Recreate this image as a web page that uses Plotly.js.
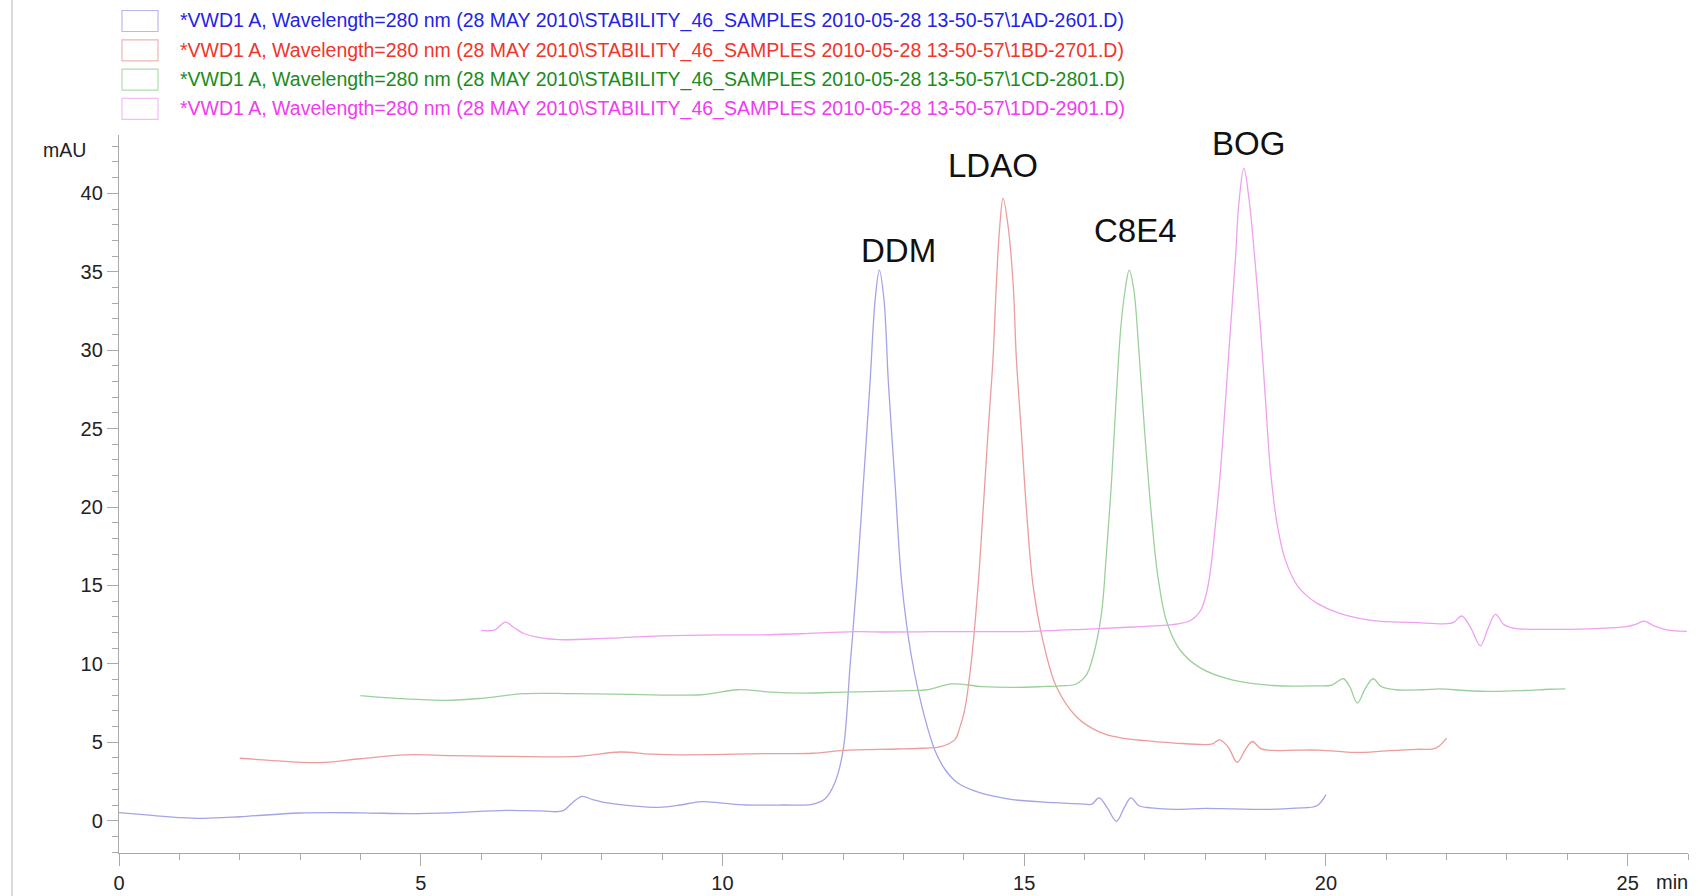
<!DOCTYPE html>
<html>
<head>
<meta charset="utf-8">
<script src="https://cdn.plot.ly/plotly-3.0.1.min.js"></script>
<style>html,body{margin:0;padding:0;background:#fff;}#chart{width:1706px;height:896px;}</style>
</head>
<body>
<div id="chart"></div>
<script>
// ---------- data ----------
const seriesNames = [
  "*VWD1 A, Wavelength=280 nm (28 MAY 2010\\STABILITY_46_SAMPLES 2010-05-28 13-50-57\\1AD-2601.D)",
  "*VWD1 A, Wavelength=280 nm (28 MAY 2010\\STABILITY_46_SAMPLES 2010-05-28 13-50-57\\1BD-2701.D)",
  "*VWD1 A, Wavelength=280 nm (28 MAY 2010\\STABILITY_46_SAMPLES 2010-05-28 13-50-57\\1CD-2801.D)",
  "*VWD1 A, Wavelength=280 nm (28 MAY 2010\\STABILITY_46_SAMPLES 2010-05-28 13-50-57\\1DD-2901.D)"
];
const peakLabels = ["DDM", "LDAO", "C8E4", "BOG"];

// Trace 1 (blue, DDM)
const t1 = [0, 0.5, 1.0, 1.4, 2.0, 3.0, 4.0, 4.8, 5.5, 6.4, 7.0, 7.35, 7.5, 7.67, 7.85, 8.1, 8.5, 8.95, 9.3, 9.65, 10.0, 10.4, 11.0, 11.5, 11.7, 11.86, 12.0, 12.114, 12.224, 12.335, 12.445, 12.53, 12.6, 12.677, 12.75, 12.86, 12.97, 13.13, 13.35, 13.53, 13.7, 13.9, 14.25, 14.8, 15.5, 16.0, 16.12, 16.24, 16.38, 16.53, 16.66, 16.77, 16.9, 17.1, 17.5, 18.0, 18.47, 19.0, 19.5, 19.85, 20.0];
const v1 = [0.52, 0.35, 0.2, 0.15, 0.25, 0.49, 0.5, 0.45, 0.5, 0.66, 0.62, 0.62, 1.1, 1.55, 1.35, 1.13, 0.95, 0.85, 1.0, 1.22, 1.12, 1.0, 1.0, 1.05, 1.4, 2.4, 4.5, 9.83, 15.15, 21.5, 27.9, 33.2, 35.1, 33.2, 27.9, 21.5, 15.2, 10.5, 6.6, 4.4, 3.2, 2.4, 1.8, 1.35, 1.15, 1.05, 1.05, 1.45, 0.8, -0.04, 0.85, 1.45, 0.95, 0.82, 0.72, 0.78, 0.75, 0.72, 0.8, 0.95, 1.66];

// Trace 2 (red, LDAO)
const t2 = [2.0, 2.5, 3.3, 4.0, 4.75, 5.5, 6.5, 7.6, 8.3, 8.8, 9.4, 10.67, 11.5, 12.0, 12.9, 13.3, 13.6, 13.85, 13.93, 14.015, 14.125, 14.236, 14.32, 14.4, 14.484, 14.54, 14.595, 14.65, 14.733, 14.816, 14.87, 14.954, 15.037, 15.147, 15.313, 15.534, 15.865, 16.25, 16.58, 17.0, 17.5, 18.0, 18.12, 18.24, 18.38, 18.53, 18.66, 18.78, 18.92, 19.14, 19.5, 19.9, 20.48, 21.0, 21.5, 21.82, 22.0];
const v2 = [3.98, 3.85, 3.7, 3.95, 4.2, 4.15, 4.1, 4.1, 4.38, 4.25, 4.2, 4.27, 4.3, 4.48, 4.57, 4.62, 4.7, 5.17, 5.9, 7.1, 10.2, 15.0, 19.85, 24.7, 29.5, 34.3, 37.9, 39.7, 37.9, 34.3, 29.5, 24.7, 19.85, 15.0, 11.43, 8.54, 6.63, 5.65, 5.3, 5.1, 4.95, 4.85, 4.9, 5.15, 4.7, 3.72, 4.5, 5.05, 4.6, 4.48, 4.5, 4.5, 4.35, 4.45, 4.55, 4.63, 5.27];

// Trace 3 (green, C8E4)
const t3 = [4.0, 4.6, 5.43, 6.0, 6.7, 7.5, 8.5, 9.65, 10.25, 10.8, 11.35, 12.0, 12.94, 13.4, 13.8, 14.3, 14.8, 15.3, 15.6, 15.85, 16.03, 16.14, 16.28, 16.36, 16.45, 16.52, 16.6, 16.675, 16.74, 16.815, 16.9, 16.985, 17.11, 17.22, 17.36, 17.58, 17.91, 18.46, 19.13, 19.8, 20.1, 20.29, 20.4, 20.52, 20.65, 20.78, 20.92, 21.15, 21.6, 21.9, 22.3, 22.78, 23.3, 23.7, 23.97];
const v3 = [7.97, 7.8, 7.67, 7.8, 8.1, 8.1, 8.05, 8.03, 8.35, 8.2, 8.14, 8.2, 8.28, 8.35, 8.72, 8.55, 8.5, 8.55, 8.6, 8.7, 9.3, 10.45, 13.2, 16.9, 21.8, 26.6, 31.4, 33.9, 35.1, 33.9, 30.0, 25.4, 19.4, 15.45, 12.7, 10.9, 9.76, 8.96, 8.62, 8.6, 8.65, 9.05, 8.5, 7.5, 8.4, 9.05, 8.55, 8.35, 8.35, 8.4, 8.3, 8.24, 8.3, 8.38, 8.41];

// Trace 4 (magenta, BOG)
const t4 = [6.0, 6.23, 6.4, 6.55, 6.7, 7.0, 7.29, 8.13, 8.98, 10.0, 10.67, 11.3, 12.19, 12.72, 13.5, 14.3, 15.11, 16.07, 16.8, 17.3, 17.55, 17.72, 17.84, 17.93, 18.0, 18.07, 18.17, 18.253, 18.336, 18.419, 18.502, 18.557, 18.64, 18.73, 18.82, 18.916, 18.999, 19.082, 19.192, 19.33, 19.524, 19.68, 19.855, 20.24, 20.79, 21.44, 22.0, 22.12, 22.25, 22.4, 22.56, 22.69, 22.81, 22.95, 23.1, 23.6, 24.21, 24.98, 25.12, 25.27, 25.45, 25.65, 25.98];
const v4 = [12.13, 12.17, 12.66, 12.3, 11.95, 11.65, 11.54, 11.64, 11.79, 11.85, 11.85, 11.92, 12.05, 12.03, 12.05, 12.05, 12.07, 12.22, 12.35, 12.45, 12.55, 12.7, 13.0, 13.45, 14.2, 15.5, 18.9, 22.3, 26.8, 31.4, 35.9, 39.35, 41.6, 39.5, 35.9, 31.4, 26.8, 22.3, 18.9, 16.6, 15.0, 14.35, 13.86, 13.2, 12.75, 12.64, 12.56, 12.65, 13.05, 12.3, 11.15, 12.3, 13.15, 12.5, 12.28, 12.2, 12.22, 12.38, 12.5, 12.72, 12.4, 12.17, 12.07];

const xTickVals = [0, 5, 10, 15, 20, 25];
const yTickVals = [0, 5, 10, 15, 20, 25, 30, 35, 40];

// ---------- styles / layout ----------
const W = 1706, H = 896;
const M = {l: 119, r: 18, t: 135, b: 43};
const PW = W - M.l - M.r, PH = H - M.t - M.b;
const px = x => (x - M.l) / PW;
const py = y => (H - M.b - y) / PH;

const lineColors = ['#a3a3e8', '#ec9c9c', '#9bd09b', '#f0a0f0'];
const textColors = ['#2323e6', '#f0352a', '#1a8c1a', '#f03cf0'];
const boxColors  = ['#b8b8ee', '#f0b4b4', '#b0dcb0', '#f4bcf4'];
const FONT = 'Liberation Sans, Arial, sans-serif';

const xs = [t1, t2, t3, t4], ys = [v1, v2, v3, v4];
const traces = xs.map((x, i) => ({
  x: x, y: ys[i], type: 'scatter', mode: 'lines', name: seriesNames[i],
  line: {color: lineColors[i], width: 1.3, shape: 'spline', smoothing: 1},
  showlegend: false, hoverinfo: 'skip'
}));

const annotations = [];
const shapes = [];
// legend rows
const rowY = [21, 50.3, 79.6, 108.9];
seriesNames.forEach((s, i) => {
  annotations.push({xref: 'paper', yref: 'paper', x: px(178), y: py(rowY[i]), xanchor: 'left', yanchor: 'middle',
    text: s, showarrow: false, font: {family: FONT, size: 19.5, color: textColors[i]}});
  shapes.push({type: 'rect', xref: 'paper', yref: 'paper', x0: px(122), x1: px(158), y0: py(rowY[i] - 10.5), y1: py(rowY[i] + 10.5),
    line: {color: boxColors[i], width: 1.2}, fillcolor: 'rgba(0,0,0,0)'});
});
// peak labels at each series' maximum
const labelShift = [[19, 20], [-10, 33], [6, 40], [5, 25]];
peakLabels.forEach((lab, i) => {
  const ym = Math.max(...ys[i]);
  const xm = xs[i][ys[i].indexOf(ym)];
  annotations.push({x: xm, y: ym, xref: 'x', yref: 'y', text: lab, showarrow: false,
    xanchor: 'center', yanchor: 'middle', xshift: labelShift[i][0], yshift: labelShift[i][1],
    font: {family: FONT, size: 33, color: '#111'}});
});
// axis unit labels
annotations.push({xref: 'paper', yref: 'paper', x: px(64), y: py(150), text: 'mAU', showarrow: false,
  xanchor: 'center', yanchor: 'middle', font: {family: FONT, size: 19.5, color: '#222'}});
annotations.push({xref: 'paper', yref: 'paper', x: px(1672), y: py(882), text: 'min', showarrow: false,
  xanchor: 'center', yanchor: 'middle', font: {family: FONT, size: 20, color: '#222'}});
// frame line at left
shapes.push({type: 'line', xref: 'paper', yref: 'paper', x0: px(12), x1: px(12), y0: py(H), y1: py(0),
  line: {color: '#cfcfcf', width: 1.5}});

const axisCol = '#a9a9a9';
const layout = {
  width: W, height: H, margin: M,
  paper_bgcolor: '#fff', plot_bgcolor: '#fff',
  font: {family: FONT, size: 20, color: '#222'},
  showlegend: false,
  xaxis: {range: [0, 26], tickvals: xTickVals, ticktext: xTickVals.map(String),
    showgrid: false, zeroline: false, showline: true, linecolor: axisCol, linewidth: 1.2,
    ticks: 'outside', ticklen: 12, tickcolor: axisCol, tickwidth: 1,
    minor: {dtick: 1, tick0: 0, ticks: 'outside', ticklen: 6, tickcolor: axisCol, tickwidth: 1, showgrid: false},
    tickfont: {family: FONT, size: 20, color: '#222'}},
  yaxis: {range: [-2.06, 43.72], tickvals: yTickVals, ticktext: yTickVals.map(String),
    showgrid: false, zeroline: false, showline: true, linecolor: axisCol, linewidth: 1.2,
    ticks: 'outside', ticklen: 11, tickcolor: axisCol, tickwidth: 1,
    minor: {dtick: 1, tick0: 0, ticks: 'outside', ticklen: 6, tickcolor: axisCol, tickwidth: 1, showgrid: false},
    tickfont: {family: FONT, size: 20, color: '#222'}},
  annotations: annotations,
  shapes: shapes
};

Plotly.newPlot('chart', traces, layout, {staticPlot: true, displayModeBar: false});
</script>
</body>
</html>
